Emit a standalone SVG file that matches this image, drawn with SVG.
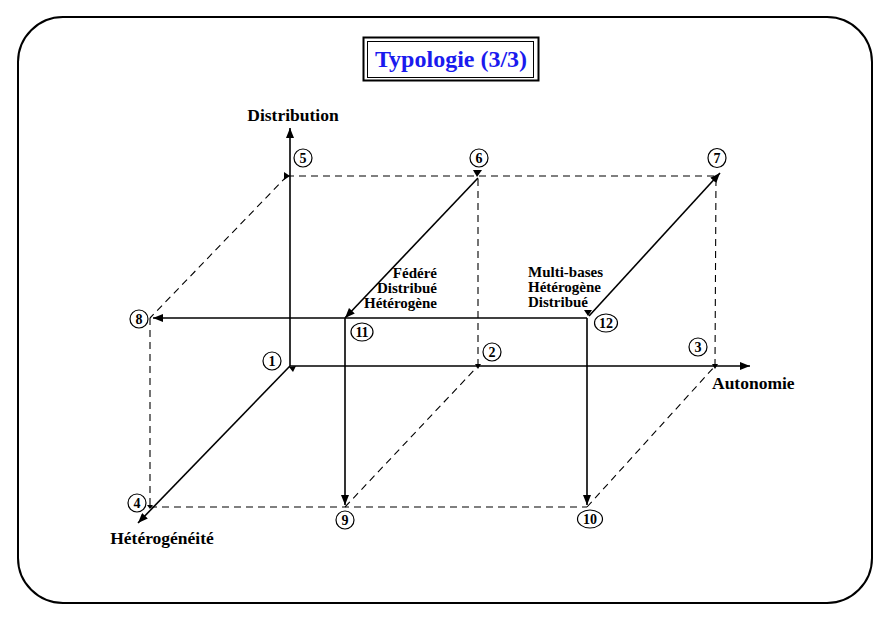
<svg xmlns="http://www.w3.org/2000/svg" width="890" height="618" viewBox="0 0 890 618">
  <defs>
    <marker id="arr" viewBox="0 0 10 8" refX="10" refY="4" markerWidth="10" markerHeight="8" markerUnits="userSpaceOnUse" orient="auto">
      <path d="M0,0 L10,4 L0,8 Z" fill="#000"/>
    </marker>
    <style>
      .frame { fill: #fff; stroke: #000; stroke-width: 2; }
      .solid { fill: none; stroke: #000; stroke-width: 1.6; }
      .dash { fill: none; stroke: #000; stroke-width: 1.1; stroke-dasharray: 7 5; }
      .tip { fill: #000; }
      .ring { fill: #fff; stroke: #000; stroke-width: 1.2; }
      .num { font-family: "Liberation Serif", "Times New Roman", serif; font-weight: bold; font-size: 14px; text-anchor: middle; fill: #000; }
      .axis { font-family: "Liberation Serif", "Times New Roman", serif; font-weight: bold; font-size: 17.5px; fill: #000; }
      .note { font-family: "Liberation Serif", "Times New Roman", serif; font-weight: bold; font-size: 15px; fill: #000; }
      .title { font-family: "Liberation Serif", "Times New Roman", serif; font-weight: bold; font-size: 24px; fill: #1a1aee; text-anchor: middle; }
    </style>
  </defs>

  <rect width="890" height="618" fill="#fff"/>
  <rect class="frame" x="18" y="17" width="854" height="586" rx="45" ry="45"/>

  <!-- title box -->
  <g id="title">
    <rect x="363.5" y="37.5" width="175" height="43" fill="#fff" stroke="#000" stroke-width="2"/>
    <rect x="367.5" y="41.5" width="166" height="36" fill="none" stroke="#000" stroke-width="1"/>
    <text class="title" x="451" y="67">Typologie (3/3)</text>
  </g>

  <!-- connectors -->
  <g id="connectors">
    <!-- axes -->
    <line class="solid" x1="290" y1="366" x2="290" y2="128" marker-end="url(#arr)"/>
    <line class="solid" x1="290" y1="366" x2="750" y2="366" marker-end="url(#arr)"/>
    <line class="solid" x1="290" y1="366" x2="138" y2="523" marker-end="url(#arr)"/>

    <!-- dashed cube edges -->
    <line class="dash" x1="287" y1="176" x2="718" y2="176"/>
    <line class="dash" x1="287" y1="176" x2="150" y2="318"/>
    <line class="dash" x1="150" y1="318" x2="150" y2="507"/>
    <line class="dash" x1="150" y1="507" x2="587" y2="507"/>
    <line class="dash" x1="345" y1="507" x2="478" y2="366"/>
    <line class="dash" x1="478" y1="366" x2="478" y2="176"/>
    <line class="dash" x1="587" y1="507" x2="715" y2="366"/>
    <line class="dash" x1="715" y1="366" x2="716" y2="176"/>

    <!-- solid transitions -->
    <line class="solid" x1="478" y1="178" x2="345" y2="318" marker-end="url(#arr)"/>
    <line class="solid" x1="587" y1="318" x2="153" y2="318" marker-end="url(#arr)"/>
    <line class="solid" x1="345" y1="318" x2="345" y2="505" marker-end="url(#arr)"/>
    <line class="solid" x1="587" y1="318" x2="587" y2="505" marker-end="url(#arr)"/>
    <line class="solid" x1="589" y1="316" x2="720" y2="173" marker-end="url(#arr)"/>

    <!-- small end tips at the corners -->
    <path class="tip" d="M284,172 L290,176 L284,180 Z"/>
    <path class="tip" d="M473,170 L482,170 L477,177 Z"/>
    <path class="tip" d="M584,310 L592,310 L588,316 Z"/>
    <path class="tip" d="M289,367 L296,366 L293,372 Z"/>
    <path class="tip" d="M475,364 L481,364 L478,369 Z"/>
    <path class="tip" d="M712,364 L718,364 L715,369 Z"/>
    <path class="tip" d="M147,505 L153,505 L150,509 Z"/>
  </g>

  <!-- axis labels -->
  <g id="axis-labels">
    <text class="axis" x="293" y="121" text-anchor="middle">Distribution</text>
    <text class="axis" x="712" y="389">Autonomie</text>
    <text class="axis" x="162" y="544" text-anchor="middle">Hétérogénéité</text>
  </g>

  <!-- vertex markers -->
  <g id="n1"><ellipse class="ring" cx="272" cy="361" rx="9" ry="9"/><text class="num" x="272" y="366">1</text></g>
  <g id="n2"><ellipse class="ring" cx="492" cy="352" rx="9" ry="9"/><text class="num" x="492" y="357">2</text></g>
  <g id="n3"><ellipse class="ring" cx="698" cy="347" rx="9" ry="9"/><text class="num" x="698" y="352">3</text></g>
  <g id="n4"><ellipse class="ring" cx="137" cy="503" rx="9" ry="9"/><text class="num" x="137" y="508">4</text></g>
  <g id="n5"><ellipse class="ring" cx="303" cy="158" rx="9" ry="9"/><text class="num" x="303" y="163">5</text></g>
  <g id="n6"><ellipse class="ring" cx="479" cy="158" rx="9" ry="9"/><text class="num" x="479" y="163">6</text></g>
  <g id="n7"><ellipse class="ring" cx="717" cy="158" rx="9" ry="9.5"/><text class="num" x="717" y="163">7</text></g>
  <g id="n8"><ellipse class="ring" cx="139" cy="319" rx="9" ry="9"/><text class="num" x="139" y="324">8</text></g>
  <g id="n9"><ellipse class="ring" cx="345" cy="520" rx="9" ry="9"/><text class="num" x="345" y="525">9</text></g>
  <g id="n10"><ellipse class="ring" cx="590" cy="519" rx="12.5" ry="9"/><text class="num" x="590" y="524">10</text></g>
  <g id="n11"><ellipse class="ring" cx="362" cy="332" rx="11" ry="9"/><text class="num" x="362" y="337">11</text></g>
  <g id="n12"><ellipse class="ring" cx="606" cy="323" rx="11.5" ry="9"/><text class="num" x="606" y="328">12</text></g>

  <!-- annotations -->
  <g id="federe">
    <text class="note" text-anchor="end" x="437" y="278">Fédéré</text>
    <text class="note" text-anchor="end" x="437" y="293">Distribué</text>
    <text class="note" text-anchor="end" x="437" y="308">Hétérogène</text>
  </g>
  <g id="multibases">
    <text class="note" x="528" y="277">Multi-bases</text>
    <text class="note" x="528" y="292">Hétérogène</text>
    <text class="note" x="528" y="307">Distribué</text>
  </g>
</svg>
